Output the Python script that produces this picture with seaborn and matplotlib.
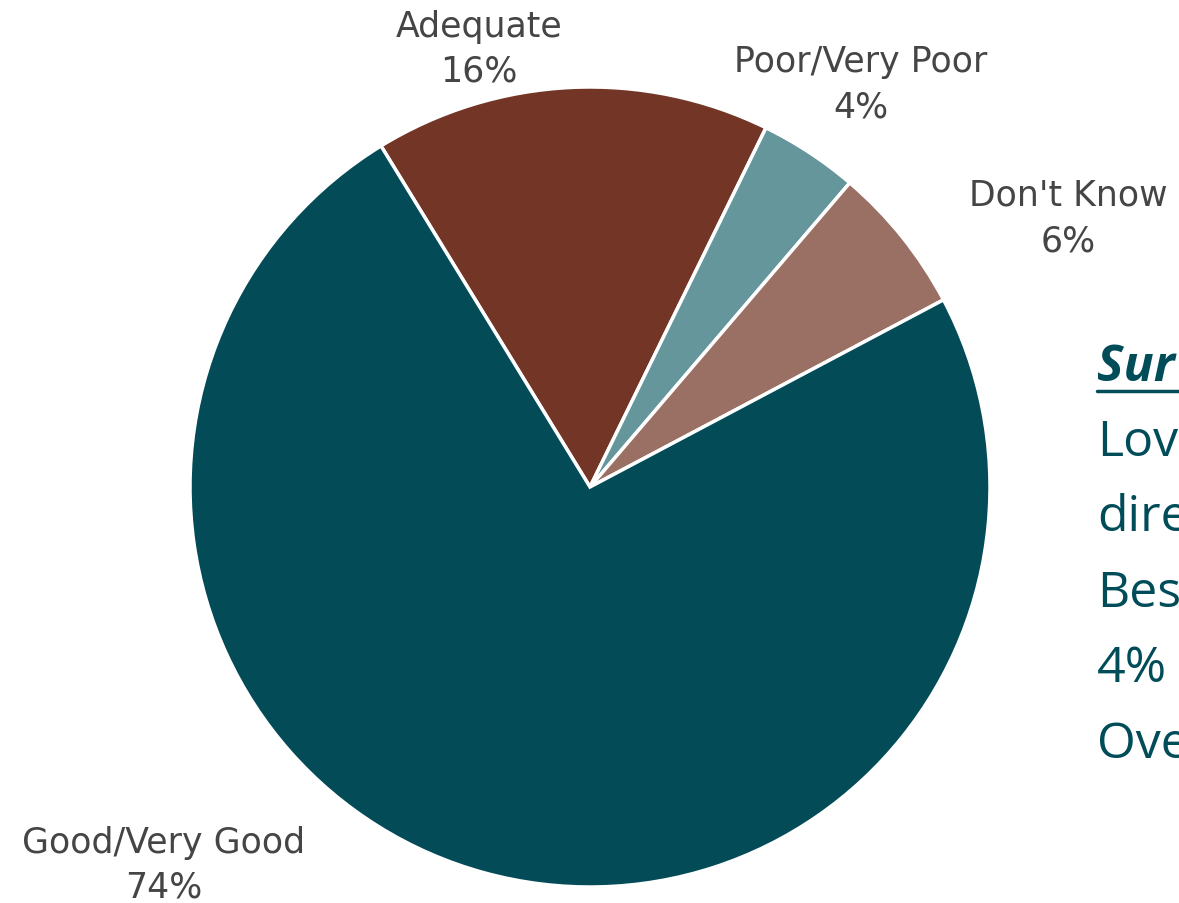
import matplotlib.pyplot as plt
import matplotlib.lines as mlines
import seaborn as sns

# slices, clockwise from the upper-left edge
categories = ["Adequate", "Poor/Very Poor", "Don't Know", "Good/Very Good"]
shares = [16, 4, 6, 74]
colors = ["#733626", "#64969b", "#9b7064", "#024b57"]

# side note, only the part visible at the right edge of the slide
note_title = "Sur"
note_lines = ["Lov", "dire", "Bes", "4%", "Ove"]

sns.set_theme(style="white")
plt.rcParams["font.family"] = ["DejaVu Sans"]

fig = plt.figure(figsize=(11.79, 9.04), dpi=100)
W, H = 1179, 904
ax = fig.add_axes([190 / W, (H - 888) / H, 800 / W, 800 / H])
ax.pie(shares, colors=colors, startangle=121.5, counterclock=False,
       wedgeprops=dict(edgecolor="white", linewidth=2.5))
ax.set_xlim(-1, 1)
ax.set_ylim(-1, 1)
ax.axis("off")

# label positions in pixels (centre of the name line)
label_pos = [(479, 27), (861, 62), (1068, 196), (164, 843)]
for name, val, (px, py) in zip(categories, shares, label_pos):
    fig.text(px / W, 1 - py / H, name, ha="center", va="center",
             fontsize=25, color="#454545")
    fig.text(px / W, 1 - (py + 45) / H, f"{val}%", ha="center", va="center",
             fontsize=25, color="#454545")

teal = "#004d59"
fig.text(1097 / W, 1 - 368 / H, note_title, ha="left", va="center",
         fontsize=36, color=teal, fontweight="bold", style="italic",
         family=["Open Sans", "DejaVu Sans"])
fig.add_artist(mlines.Line2D([1097 / W, 1.0], [1 - 392 / H, 1 - 392 / H],
                             color=teal, linewidth=2.5))
for i, line in enumerate(note_lines):
    fig.text(1097 / W, 1 - (443 + i * 75.5) / H, line, ha="left", va="center",
             fontsize=36, color=teal, family=["Open Sans", "DejaVu Sans"])

fig.savefig("out.png", dpi=100)
